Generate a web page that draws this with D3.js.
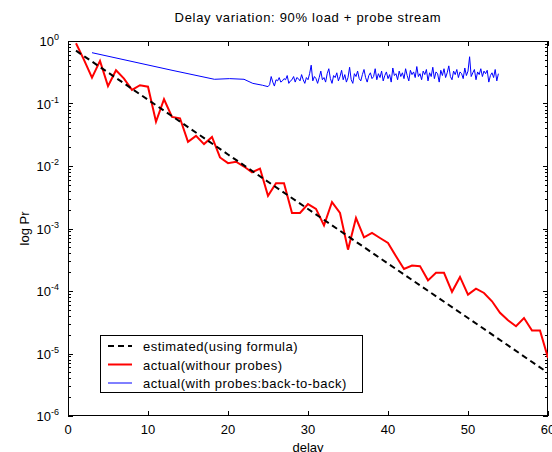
<!DOCTYPE html>
<html>
<head>
<meta charset="utf-8">
<script src="https://cdn.jsdelivr.net/npm/d3@7"></script>
<style>
  body { margin: 0; background: #fff; }
  text { font-family: "Liberation Sans", Arial, sans-serif; fill: #000; }
</style>
</head>
<body>
<div id="chart"></div>
<script>
var svgWidth = 552;
var svgHeight = 452;

var margin = { top: 41, right: 4, bottom: 36, left: 68 };
var width = svgWidth - margin.left - margin.right;
var height = svgHeight - margin.top - margin.bottom;

// data
var xTicks = [0, 10, 20, 30, 40, 50, 60];
var yDecades = [-6, -5, -4, -3, -2, -1, 0];

// estimated(using formula): straight line in log space
var estX = [1, 10, 20, 30, 40, 50, 60];
var estY = [0.70, 0.115, 0.0153, 0.00205, 0.000275, 3.7e-5, 4.9e-6];

// actual(withour probes), one value per delay 1..60
var redY = [0.92, 0.50, 0.26, 0.48, 0.19, 0.34, 0.25, 0.165, 0.196, 0.186,
            0.051, 0.117, 0.061, 0.058, 0.0244, 0.0303, 0.0224, 0.0292, 0.0137, 0.0111,
            0.0117, 0.0098, 0.0079, 0.0091, 0.00334, 0.0053, 0.0053, 0.00177, 0.00177, 0.00246,
            0.00206, 0.00112, 0.00265, 0.00177, 0.000459, 0.00147, 0.000721, 0.00085, 0.000705, 0.000586,
            0.000359, 0.000225, 0.000255, 0.00025, 0.000148, 0.000195, 0.000195, 9.7e-5, 0.000168, 8.75e-5,
            0.000109, 9.3e-5, 6.85e-5, 4.47e-5, 3.4e-5, 2.73e-5, 3.7e-5, 2.33e-5, 2.33e-5, 8.5e-6];

// actual(with probes:back-to-back): smooth head, then noisy part
var blueHeadX = [3, 8, 13, 18.3, 20.2, 22, 23.1, 24.3, 25];
var blueHeadY = [0.65, 0.47, 0.34, 0.244, 0.25, 0.244, 0.21, 0.196, 0.186];
var blueNoiseStart = 25.2;
var blueNoiseStep = 0.2;
var blueNoiseY = [0.2, 0.27, 0.22, 0.19, 0.24, 0.23, 0.26, 0.22, 0.23, 0.25, 0.24, 0.28, 0.21, 0.23, 0.24, 0.27, 0.22, 0.26, 0.25, 0.23, 0.29, 0.24, 0.21, 0.26, 0.24,
                  0.3, 0.41, 0.23, 0.27, 0.25, 0.21, 0.26, 0.33, 0.24, 0.26, 0.22, 0.3, 0.36, 0.25, 0.21, 0.28, 0.26, 0.31, 0.23, 0.27, 0.34, 0.24, 0.29, 0.22,
                  0.26, 0.38, 0.24, 0.21, 0.3, 0.27, 0.33, 0.25, 0.23, 0.29, 0.35, 0.26, 0.22, 0.28, 0.31, 0.25, 0.27, 0.36, 0.24, 0.3, 0.26, 0.33, 0.23, 0.28,
                  0.32, 0.25, 0.29, 0.22, 0.37, 0.28, 0.3, 0.24, 0.33, 0.27, 0.31, 0.25, 0.36, 0.28, 0.23, 0.34, 0.29, 0.32, 0.26, 0.39, 0.27, 0.3, 0.24, 0.33,
                  0.29, 0.35, 0.23, 0.31, 0.27, 0.38, 0.25, 0.32, 0.3, 0.22, 0.34, 0.28, 0.36, 0.26, 0.31, 0.4, 0.27, 0.24, 0.33, 0.29, 0.35, 0.26, 0.32, 0.3,
                  0.25, 0.37, 0.28, 0.33, 0.56, 0.27, 0.31, 0.35, 0.24, 0.32, 0.29, 0.36, 0.27, 0.33, 0.3, 0.34, 0.22, 0.28, 0.31, 0.26, 0.35, 0.23, 0.3];

var legendLabels = ["estimated(using formula)", "actual(withour probes)", "actual(with probes:back-to-back)"];

var svg = d3.select("#chart")
  .append("svg")
  .attr("width", svgWidth)
  .attr("height", svgHeight);

var chartGroup = svg.append("g")
  .attr("transform", `translate(${margin.left}, ${margin.top})`);

var x = d3.scaleLinear().domain([0, 60]).range([0, width]);
var y = d3.scaleLog().domain([1e-6, 1]).range([height, 0]);

svg.append("defs").append("clipPath").attr("id", "clip")
  .append("rect").attr("width", width).attr("height", height);

// ticks, inward, on all four sides
var tickG = chartGroup.append("g").attr("stroke", "#000").attr("stroke-width", 1);
xTicks.forEach(function (t) {
  var px = Math.round(x(t)) + 0.5;
  tickG.append("line").attr("x1", px).attr("x2", px).attr("y1", height).attr("y2", height - 5);
  tickG.append("line").attr("x1", px).attr("x2", px).attr("y1", 0).attr("y2", 5);
});
y.ticks().forEach(function (t) {
  var major = Math.abs(Math.log10(t) - Math.round(Math.log10(t))) < 1e-9;
  var len = major ? 5 : 3;
  var py = Math.round(y(t)) + 0.5;
  tickG.append("line").attr("x1", 0).attr("x2", len).attr("y1", py).attr("y2", py);
  tickG.append("line").attr("x1", width).attr("x2", width - len).attr("y1", py).attr("y2", py);
});

chartGroup.append("rect")
  .attr("x", 0.5).attr("y", 0.5)
  .attr("width", width - 1).attr("height", height - 1)
  .attr("fill", "none").attr("stroke", "#000");

// tick labels
chartGroup.selectAll(".xl").data(xTicks).enter().append("text")
  .attr("x", d => x(d)).attr("y", height + 18)
  .attr("text-anchor", "middle").attr("font-size", 13)
  .text(d => d);

var yl = chartGroup.selectAll(".yl").data(yDecades).enter().append("text")
  .attr("x", -9).attr("y", d => y(Math.pow(10, d)) + 5)
  .attr("text-anchor", "end").attr("font-size", 13);
yl.append("tspan").text("10");
yl.append("tspan").attr("dy", -6).attr("font-size", 9).text(d => d);

// lines
var line = d3.line().x(d => x(d[0])).y(d => y(d[1]));
var plot = chartGroup.append("g").attr("clip-path", "url(#clip)");

var bluePts = blueHeadX.map((v, i) => [v, blueHeadY[i]])
  .concat(blueNoiseY.map((v, i) => [blueNoiseStart + i * blueNoiseStep, v]));
plot.append("path").datum(bluePts)
  .attr("d", line).attr("fill", "none").attr("stroke", "#0000ff").attr("stroke-width", 1);

plot.append("path").datum(redY.map((v, i) => [i + 1, v]))
  .attr("d", line).attr("fill", "none").attr("stroke", "#ff0000").attr("stroke-width", 2);

plot.append("path").datum(estX.map((v, i) => [v, estY[i]]))
  .attr("d", line).attr("fill", "none").attr("stroke", "#000")
  .attr("stroke-width", 2).attr("stroke-dasharray", "6,4");

// title and axis labels
svg.append("text").attr("x", margin.left + width / 2).attr("y", 22)
  .attr("text-anchor", "middle").attr("font-size", 13).attr("letter-spacing", 0.7)
  .text("Delay variation: 90% load + probe stream");
svg.append("text").attr("x", margin.left + width / 2).attr("y", 452)
  .attr("text-anchor", "middle").attr("font-size", 13).text("delay");
svg.append("text").attr("transform", `translate(29, ${margin.top + height / 2}) rotate(-90)`)
  .attr("text-anchor", "middle").attr("font-size", 13).text("log Pr");

// legend
var lg = svg.append("g").attr("transform", "translate(100, 335)");
lg.append("rect").attr("x", 0.5).attr("y", 0.5).attr("width", 262).attr("height", 57)
  .attr("fill", "#fff").attr("stroke", "#000");
var legendStyle = [
  { color: "#000", w: 2, dash: "6,4" },
  { color: "#ff0000", w: 2, dash: null },
  { color: "#0000ff", w: 1, dash: null }
];
legendLabels.forEach(function (lab, i) {
  var ly = 11 + i * 18.5;
  lg.append("line").attr("x1", 8).attr("x2", 32).attr("y1", ly).attr("y2", ly)
    .attr("stroke", legendStyle[i].color).attr("stroke-width", legendStyle[i].w)
    .attr("stroke-dasharray", legendStyle[i].dash);
  lg.append("text").attr("x", 43).attr("y", ly + 5)
    .attr("font-size", 13).attr("letter-spacing", 0.5).text(lab);
});
</script>
</body>
</html>
